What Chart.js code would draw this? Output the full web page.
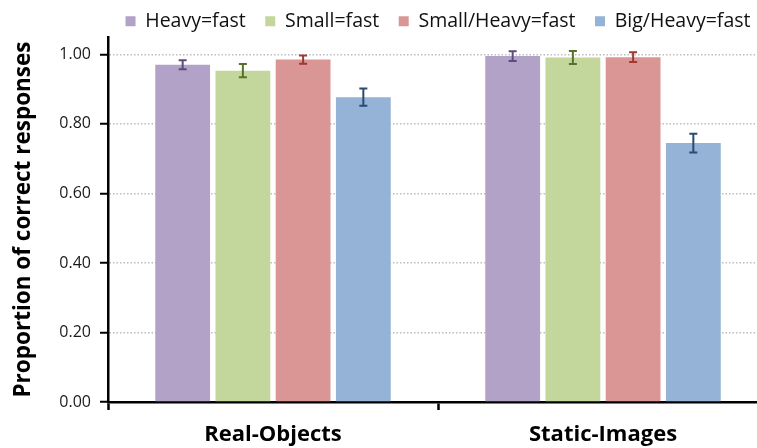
<!DOCTYPE html>
<html>
<head>
<meta charset="utf-8">
<script src="https://cdn.jsdelivr.net/npm/chart.js@4"></script>
<style>
  html, body { margin: 0; padding: 0; background: #fff; overflow: hidden; }
  #wrap { position: relative; width: 768px; height: 448px; }
</style>
</head>
<body>
<div id="wrap"><canvas id="proportionChart"></canvas></div>
<script>
// data
const categories = ['Real-Objects', 'Static-Images'];
const seriesNames = ['Heavy=fast', 'Small=fast', 'Small/Heavy=fast', 'Big/Heavy=fast'];
const heavyFast = [0.970, 0.995];
const smallFast = [0.953, 0.991];
const smallHeavyFast = [0.985, 0.992];
const bigHeavyFast = [0.877, 0.745];
const heavyFastErr = [0.013, 0.014];
const smallFastErr = [0.019, 0.019];
const smallHeavyFastErr = [0.012, 0.014];
const bigHeavyFastErr = [0.025, 0.027];
const yTicks = [0, 0.2, 0.4, 0.6, 0.8, 1.0];

const fills = ['#b3a2c7', '#c3d69b', '#d99694', '#95b3d7'];
const errColors = ['#5f4a7d', '#5a7028', '#a03735', '#2a4a74'];
const values = [heavyFast, smallFast, smallHeavyFast, bigHeavyFast];
const errors = [heavyFastErr, smallFastErr, smallHeavyFastErr, bigHeavyFastErr];

const FONT = "'Open Sans', 'DejaVu Sans', sans-serif";

// error bars, drawn on top of the bars
const errorBars = {
    id: 'errorBars',
    afterDatasetsDraw(chart) {
        const ctx = chart.ctx;
        const y = chart.scales.y;
        chart.data.datasets.forEach((ds, i) => {
            const meta = chart.getDatasetMeta(i);
            meta.data.forEach((bar, j) => {
                const v = ds.data[j], e = ds.errors[j];
                const top = y.getPixelForValue(v + e);
                const bot = y.getPixelForValue(v - e);
                ctx.save();
                ctx.strokeStyle = ds.errorColor;
                ctx.lineWidth = 2;
                ctx.beginPath();
                ctx.moveTo(bar.x, top); ctx.lineTo(bar.x, bot);
                ctx.moveTo(bar.x - 4, top); ctx.lineTo(bar.x + 4, top);
                ctx.moveTo(bar.x - 4, bot); ctx.lineTo(bar.x + 4, bot);
                ctx.stroke();
                ctx.restore();
            });
        });
    }
};

// nudge the legend to where it sits in the figure
const legendShift = {
    id: 'legendShift',
    afterLayout(chart) {
        const lg = chart.legend;
        lg.left += 54; lg.right += 54;
        lg.top -= 8;
    }
};

new Chart(document.getElementById('proportionChart'), {
    type: 'bar',
    data: {
        labels: categories,
        datasets: seriesNames.map((name, i) => ({
            label: name,
            data: values[i],
            errors: errors[i],
            errorColor: errColors[i],
            backgroundColor: fills[i],
            borderWidth: 0,
            barPercentage: 0.91,
            categoryPercentage: 0.73
        }))
    },
    options: {
        responsive: true,
        maintainAspectRatio: false,
        animation: false,
        layout: { padding: 0 },
        plugins: {
            tooltip: { enabled: false },
            legend: {
                position: 'top',
                maxHeight: 37,
                labels: {
                    boxWidth: 10,
                    boxHeight: 10,
                    padding: 19.5,
                    color: '#111',
                    font: { family: FONT, size: 19.5 }
                }
            }
        },
        scales: {
            x: {
                afterFit: s => { s.height = 46; },
                grid: {
                    offset: true,
                    drawOnChartArea: false,
                    drawTicks: true,
                    tickLength: 8,
                    tickColor: '#000',
                    tickWidth: 2.5
                },
                border: { color: '#000', width: 2.5 },
                ticks: {
                    color: '#000',
                    padding: 12,
                    font: { family: FONT, size: 22, weight: 'bold' }
                }
            },
            y: {
                min: 0,
                max: 1.05,
                afterFit: s => { s.width = 108; },
                afterBuildTicks: s => { s.ticks = yTicks.map(v => ({ value: v })); },
                grid: {
                    color: '#bdbdbd',
                    lineWidth: 1.5,
                    tickColor: '#000',
                    tickWidth: 2,
                    tickLength: 8
                },
                border: { color: '#000', width: 2.5, dash: [1.5, 2] },
                ticks: {
                    color: '#1a1a1a',
                    padding: 9,
                    font: { family: FONT, size: 16 },
                    callback: v => Number(v).toFixed(2)
                },
                title: {
                    display: true,
                    text: 'Proportion of correct responses',
                    color: '#000',
                    padding: { top: 10, bottom: 0 },
                    font: { family: FONT, size: 22.5, weight: 'bold' }
                }
            }
        }
    },
    plugins: [errorBars, legendShift]
});
</script>
</body>
</html>
